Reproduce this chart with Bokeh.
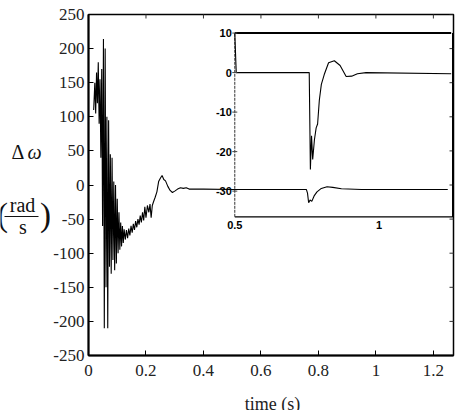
import math
from bokeh.plotting import figure
from bokeh.layouts import row, column
from bokeh.models import Range1d, FixedTicker
from bokeh.core.properties import value
from bokeh.embed import file_html
from bokeh.resources import INLINE

# ---------------- data ----------------
t_main = [0.018, 0.022, 0.025, 0.028, 0.031, 0.034, 0.037, 0.040, 0.043, 0.046,
          0.049, 0.052, 0.055, 0.058, 0.061, 0.064, 0.067, 0.070, 0.073, 0.076,
          0.079, 0.082, 0.085, 0.088, 0.091, 0.094, 0.097, 0.100, 0.103, 0.106,
          0.109, 0.112, 0.115, 0.118, 0.121, 0.124, 0.128, 0.132, 0.136, 0.140,
          0.144, 0.148, 0.152, 0.156, 0.160, 0.164, 0.168, 0.172, 0.176, 0.180,
          0.184, 0.188, 0.192, 0.196, 0.200, 0.205, 0.210, 0.214, 0.218, 0.222,
          0.226, 0.232, 0.238, 0.244, 0.250, 0.256, 0.262, 0.268, 0.276, 0.284,
          0.292, 0.300, 0.310, 0.320, 0.330, 0.340, 0.350, 0.400, 0.500, 0.600,
          0.758, 0.762, 0.766, 0.771, 0.777, 0.785, 0.795, 0.810, 0.830, 0.850,
          0.880, 0.950, 1.250]
dw_main = [110, 150, 105, 165, 120, 180, 90, 155, 40, 170,
           -60, 214, -210, 200, -150, 100, -210, 95, -120, 45,
           -130, 40, -110, 5, -125, 0, -115, -20, -100, -40,
           -95, -55, -90, -60, -85, -65, -80, -66, -78, -64,
           -74, -60, -70, -57, -66, -53, -62, -50, -58, -45,
           -55, -40, -52, -32, -48, -30, -40, -28, -48, -30,
           -25, -18, -10, 5, 10, 14, 8, 6, -2, -8,
           -11, -9, -6, -4, -5, -4, -6, -6, -6.5, -6.5,
           -6.5, -12, -26, -22, -24, -16, -10, -5, -2.5, -3.5,
           -5.5, -6.5, -6.5]

x_ticks = [0, 0.2, 0.4, 0.6, 0.8, 1.0, 1.2]
x_tick_labels = ["0", "0.2", "0.4", "0.6", "0.8", "1", "1.2"]
y_ticks = [-250, -200, -150, -100, -50, 0, 50, 100, 150, 200, 250]
y_tick_labels = ["-250", "-200", "-150", "-100", "-50", "0", "50", "100", "150", "200", "250"]

# inset
inset_t_top = [0.5, 1.25]
inset_v_top = [10, 10]
inset_t_mid = [0.5, 0.505, 0.758, 0.762, 0.766, 0.770, 0.776, 0.782, 0.787, 0.793,
               0.800, 0.810, 0.825, 0.845, 0.865, 0.886, 0.905, 0.925, 0.955, 1.25]
inset_v_mid = [10, 0, 0, -24.5, -16, -22, -17, -14, -13, -7,
               -3, -0.5, 2.5, 3, 1.8, -1, -0.9, -0.3, 0, -0.3]
inset_y_ticks = [10, 0, -10, -20, -30]
inset_y_labels = ["10", "0", "-10", "-20", "-30"]
inset_x_ticks = [0.5, 1]
inset_x_labels = ["0.5", "1"]
inset_box_x = [0.5, 1.255]
inset_box_y = [-36.5, 10]

SERIF = "Liberation Serif"
SANS = "Liberation Sans"
W, H = 458, 410
LW = 50          # width of the strip holding the y-axis title
BH = 25          # height of the strip holding the x-axis title
TOP, BOT = 14, 355   # frame top / bottom in page pixels

# ---------------- left strip with the y-axis title ----------------
pl = figure(width=LW, height=H - BH, x_range=Range1d(0, LW), y_range=Range1d(H - BOT, H - TOP),
            output_backend="svg", toolbar_location=None, min_border_left=0, min_border_right=0,
            min_border_top=TOP, min_border_bottom=H - BH - BOT)
pl.axis.visible = False
pl.grid.visible = False
pl.outline_line_color = None

def ltext(x, y, text, size, style="normal"):
    pl.text([x], [H - y], text=[text], text_font=value(SERIF), text_font_size=size,
            text_font_style=style, text_align="center", text_baseline="middle",
            text_color="#111111")

ltext(17.5, 151, "Δ", "20px")
ltext(34, 151, "ω", "20px", style="italic")
ltext(2, 214, "(", "33px")
ltext(45, 214, ")", "33px")
ltext(22, 204, "rad", "20px")
ltext(22.5, 226, "s", "20px")
pl.segment(x0=[4], y0=[H - 216], x1=[38], y1=[H - 216], line_color="#111111", line_width=1.2)

# ---------------- main plot ----------------
p = figure(width=W - LW, height=H - BH, x_range=Range1d(0, 1.27), y_range=Range1d(-250, 250),
           output_backend="svg", toolbar_location=None,
           min_border_left=86 - LW, min_border_right=5, min_border_top=TOP,
           min_border_bottom=H - BH - BOT)
p.grid.visible = False
p.outline_line_color = "black"
p.outline_line_width = 1.5

for ax in (p.xaxis[0], p.yaxis[0]):
    ax.major_tick_in = 5
    ax.major_tick_out = 0
    ax.minor_tick_line_color = None
    ax.axis_line_width = 2
    ax.axis_line_color = "black"
    ax.major_label_text_font = SERIF
    ax.major_label_text_font_size = "17px"
    ax.major_label_text_color = "#222222"

p.xaxis[0].ticker = FixedTicker(ticks=x_ticks)
p.xaxis[0].major_label_overrides = {t: l for t, l in zip(x_ticks, x_tick_labels)}
p.xaxis[0].major_label_standoff = 9
p.yaxis[0].ticker = FixedTicker(ticks=y_ticks)
p.yaxis[0].major_label_overrides = {t: l for t, l in zip(y_ticks, y_tick_labels)}
p.yaxis[0].major_label_standoff = 4

# inward ticks on the top and right edges (half of each dash is clipped by the frame)
p.scatter(x_ticks, [y_ticks[-1]] * len(x_ticks), marker="dash", angle=math.pi / 2,
          size=8, line_color="#333333")
p.scatter([p.x_range.end] * len(y_ticks), y_ticks, marker="dash", size=8,
          line_color="#333333")

# main curve
p.line(t_main, dw_main, line_color="black", line_width=1.1)

# inset in its own ranges
p.extra_x_ranges = {"ix": Range1d(-0.007, 1.258)}
p.extra_y_ranges = {"iy": Range1d(-71.6, 14.7)}
kw = dict(x_range_name="ix", y_range_name="iy")

x0, x1 = inset_box_x
y0, y1 = inset_box_y
p.line([x0, x1, x1], [y0, y0, y1], line_color="black", line_width=1.3, **kw)
p.line([x0, x0], [y0, y1], line_color="#333333", line_width=1.0, line_dash="3 1", **kw)
p.line(inset_t_top, inset_v_top, line_color="black", line_width=2, **kw)
p.line(inset_t_mid, inset_v_mid, line_color="black", line_width=1.1, **kw)

p.scatter([x0] * len(inset_y_ticks), inset_y_ticks, marker="dash", size=5,
          line_color="#444444", **kw)
p.text([x0] * len(inset_y_ticks), inset_y_ticks, text=inset_y_labels, x_offset=-3,
       text_align="right", text_baseline="middle", text_font=value(SANS),
       text_font_style="bold", text_font_size="11px", text_color="black", **kw)
p.text(inset_x_ticks, [y0] * len(inset_x_ticks), text=inset_x_labels, y_offset=4,
       text_align="center", text_baseline="top", text_font=value(SANS),
       text_font_style="bold", text_font_size="11px", text_color="black", **kw)

# ---------------- bottom strip with the x-axis title ----------------
pb = figure(width=W, height=BH, x_range=Range1d(0, W), y_range=Range1d(0, BH),
            output_backend="svg", toolbar_location=None, min_border=0)
pb.axis.visible = False
pb.grid.visible = False
pb.outline_line_color = None
pb.text([272], [H - 403], text=["time (s)"], text_font=value(SERIF), text_font_size="18px",
        text_align="center", text_baseline="middle", text_color="#222222")

layout = column(row(pl, p), pb)
open("out.html", "w").write(file_html(layout, INLINE))
